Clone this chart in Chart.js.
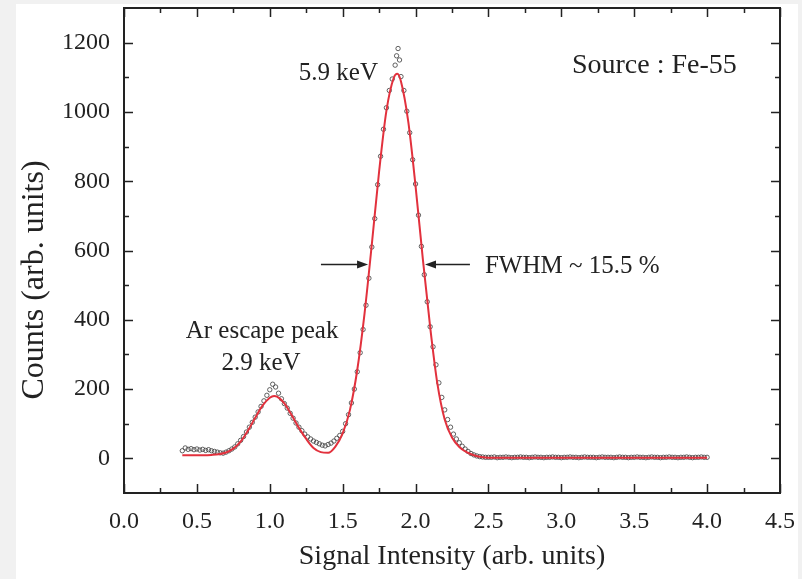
<!DOCTYPE html>
<html><head><meta charset="utf-8">
<script src="https://cdn.jsdelivr.net/npm/chart.js@4/dist/chart.umd.min.js"></script>
<style>html,body{margin:0;padding:0;background:#f1f1f1;overflow:hidden}#wrap{position:absolute;left:0;top:0;width:802px;height:579px}</style>
</head><body><div id="wrap"><canvas id="c" width="802" height="579"></canvas></div>
<script>
// ---- data ----
const dataX = [
0.40,0.42,0.44,0.46,0.48,0.50,0.52,0.54,0.56,0.58,0.60,0.62,0.64,0.66,0.68,0.70,0.72,0.74,0.76,0.78,
0.80,0.82,0.84,0.86,0.88,0.90,0.92,0.94,0.96,0.98,1.00,1.02,1.04,1.06,1.08,1.10,1.12,1.14,1.16,1.18,
1.20,1.22,1.24,1.26,1.28,1.30,1.32,1.34,1.36,1.38,1.40,1.42,1.44,1.46,1.48,
1.50,1.52,1.54,1.56,1.58,1.60,1.62,1.64,1.66,1.68,1.70,1.72,1.74,1.76,1.78,1.80,1.82,1.84,1.86,1.87,
1.88,1.89,1.90,1.92,1.94,1.96,1.98,2.00,2.02,2.04,2.06,2.08,2.10,2.12,2.14,2.16,2.18,2.20,2.22,2.24,
2.26,2.28,2.30,2.32,2.34,2.36,2.38,2.40,2.42,2.44,2.46,2.48,2.50,
2.52,2.54,2.56,2.58,2.60,2.62,2.64,2.66,2.68,2.70,2.72,2.74,2.76,2.78,2.80,2.82,2.84,2.86,2.88,2.90,
2.92,2.94,2.96,2.98,3.00,3.02,3.04,3.06,3.08,3.10,3.12,3.14,3.16,3.18,3.20,3.22,3.24,3.26,3.28,3.30,
3.32,3.34,3.36,3.38,3.40,3.42,3.44,3.46,3.48,3.50,3.52,3.54,3.56,3.58,3.60,3.62,3.64,3.66,3.68,3.70,
3.72,3.74,3.76,3.78,3.80,3.82,3.84,3.86,3.88,3.90,3.92,3.94,3.96,3.98,4.00];
const dataY = [
22,30,26,28,25,27,24,26,23,25,22,20,18,16,15,18,22,27,33,42,
52,63,76,90,104,119,134,150,166,182,198,214,206,188,172,158,145,130,116,102,
90,80,70,62,56,50,46,42,38,36,40,44,50,58,66,
78,100,126,160,200,250,305,372,442,520,610,692,790,872,950,1012,1062,1095,1135,1162,
1183,1150,1102,1062,1002,940,862,792,702,612,530,452,380,322,270,218,176,140,112,90,
70,56,45,35,27,20,14,10,7,5,4,3,3,
3,4,2,3,3,4,3,2,3,3,4,3,3,2,3,4,3,3,2,3,
3,4,3,3,2,3,3,4,3,3,2,3,4,3,3,3,2,3,4,3,
3,3,2,3,4,3,3,2,3,3,4,3,3,2,3,4,3,3,2,3,
3,4,3,3,2,3,3,4,3,2,3,3,4,3,3];
const fitX = [0.40,0.45,0.50,0.55,0.60,0.65,0.70,0.75,0.80,0.85,0.90,0.95,1.00,1.03,1.05,1.10,1.15,1.20,1.25,1.30,
1.35,1.40,1.45,1.50,1.55,1.60,1.65,1.70,1.75,1.80,1.85,1.875,1.90,1.95,2.00,2.05,2.10,2.15,2.20,2.25,
2.30,2.35,2.40,2.45,2.50,2.60,2.80,3.00,3.20,3.40,3.60,3.80,4.00];
const fitY = [9,9,9,9,10,12,17,28,48,80,117,152,175,180,178,159,125,88,56,30,
18,16,34,72,140,255,418,618,828,1003,1098,1110,1088,972,786,575,380,215,112,60,
33,18,9,4,2,2,2,2,2,2,2,2,2];
const xTickValues = [0,0.5,1,1.5,2,2.5,3,3.5,4,4.5];
const xTickLabels = ['0.0','0.5','1.0','1.5','2.0','2.5','3.0','3.5','4.0','4.5'];
const yTickValues = [0,200,400,600,800,1000,1200];
const yTickLabels = ['0','200','400','600','800','1000','1200'];
const xMinor = [0.25,0.75,1.25,1.75,2.25,2.75,3.25,3.75,4.25];
const yMinor = [100,300,500,700,900,1100];

const notes = [
  {text:'5.9 keV', x:1.742, y:1112, align:'right', size:25},
  {text:'Source : Fe-55', x:3.073, y:1135, align:'left', size:28},
  {text:'Ar escape peak', x:0.947, y:365, align:'center', size:25},
  {text:'2.9 keV', x:0.94, y:273, align:'center', size:25},
  {text:'FWHM ~ 15.5 %', x:2.476, y:555, align:'left', size:25}
];
const arrows = [ {from:1.351, to:1.674, y:560}, {from:2.373, to:2.065, y:560} ];
const yTitle = {text:'Counts (arb. units)', x:35, y:280, size:32};

const FONT = "'Liberation Serif','Times New Roman',serif";
const INK = '#222';

const frame = {
  id:'frame',
  beforeDraw(chart){
    const c = chart.ctx;
    c.save();
    c.fillStyle='#f1f1f1'; c.fillRect(0,0,chart.width,chart.height);
    c.fillStyle='#ffffff'; c.fillRect(16,4,782,575);
    c.restore();
  },
  afterDatasetsDraw(chart){
    const c = chart.ctx, a = chart.chartArea, xs = chart.scales.x, ys = chart.scales.y;
    c.save();
    c.strokeStyle = INK; c.lineWidth = 2;
    c.strokeRect(a.left, a.top, a.right-a.left, a.bottom-a.top);
    c.lineWidth = 1.5;
    const tick = (vals, len, isX) => {
      vals.forEach(v => {
        c.beginPath();
        if (isX) {
          const p = Math.round(xs.getPixelForValue(v))+0.5;
          c.moveTo(p, a.bottom); c.lineTo(p, a.bottom-len);
          c.moveTo(p, a.top); c.lineTo(p, a.top+len);
        } else {
          const p = Math.round(ys.getPixelForValue(v))+0.5;
          c.moveTo(a.left, p); c.lineTo(a.left+len, p);
          c.moveTo(a.right, p); c.lineTo(a.right-len, p);
        }
        c.stroke();
      });
    };
    tick(xTickValues, 9, true); tick(xMinor, 5, true);
    tick(yTickValues, 9, false); tick(yMinor, 5, false);
    // annotations
    c.fillStyle = INK; c.textBaseline = 'middle';
    notes.forEach(n => {
      c.font = n.size + 'px ' + FONT;
      c.textAlign = n.align;
      c.fillText(n.text, xs.getPixelForValue(n.x), ys.getPixelForValue(n.y));
    });
    c.strokeStyle = INK; c.lineWidth = 1.3;
    arrows.forEach(r => {
      const x0 = xs.getPixelForValue(r.from), x1 = xs.getPixelForValue(r.to), y = Math.round(ys.getPixelForValue(r.y))+0.5;
      const dir = Math.sign(x1-x0);
      c.beginPath(); c.moveTo(x0,y); c.lineTo(x1-dir*8,y); c.stroke();
      c.beginPath(); c.moveTo(x1,y); c.lineTo(x1-dir*11,y-4); c.lineTo(x1-dir*11,y+4); c.closePath(); c.fill();
    });
    // y axis title
    c.save();
    c.translate(yTitle.x, yTitle.y); c.rotate(-Math.PI/2);
    c.font = yTitle.size + 'px ' + FONT; c.textAlign = 'center'; c.textBaseline = 'middle';
    c.fillText(yTitle.text, 0, 0);
    c.restore();
    c.restore();
  }
};

new Chart(document.getElementById('c'), {
  type:'scatter',
  data:{
    datasets:[
      {label:'data', data:dataX.map((x,i)=>({x, y:dataY[i]})), showLine:false,
       pointRadius:2.2, pointBorderWidth:1, pointBorderColor:'rgba(70,70,70,0.85)', pointBackgroundColor:'rgba(255,255,255,0)', order:2},
      {label:'fit', data:fitX.map((x,i)=>({x, y:fitY[i]})), showLine:true, pointRadius:0,
       borderColor:'#e2313d', borderWidth:2, cubicInterpolationMode:'monotone', order:1}
    ]
  },
  options:{
    responsive:false, animation:false, devicePixelRatio:1,
    layout:{padding:{top:8, right:22, left:0, bottom:0}},
    plugins:{legend:{display:false}, tooltip:{enabled:false}},
    scales:{
      x:{type:'linear', min:0, max:4.5,
         grid:{display:false, drawTicks:false}, border:{display:false},
         afterBuildTicks(s){ s.ticks = xTickValues.map(v=>({value:v})); },
         afterFit(s){ s.height = 86; s.paddingLeft = 0; s.paddingRight = 0; },
         ticks:{padding:14, color:INK, font:{family:FONT, size:24}, maxRotation:0, autoSkip:false,
                callback:(v)=>{const i = xTickValues.indexOf(v); return i>=0 ? xTickLabels[i] : '';}},
         title:{display:true, text:'Signal Intensity (arb. units)', color:INK, font:{family:FONT, size:28}, padding:{top:0,bottom:6}}},
      y:{type:'linear', min:-100, max:1300,
         grid:{display:false, drawTicks:false}, border:{display:false},
         afterBuildTicks(s){ s.ticks = yTickValues.map(v=>({value:v})); },
         afterFit(s){ s.width = 124; s.paddingTop = 0; s.paddingBottom = 0; },
         ticks:{padding:14, color:INK, font:{family:FONT, size:24}, autoSkip:false,
                callback:(v)=>{const i = yTickValues.indexOf(v); return i>=0 ? yTickLabels[i] : '';}},
         title:{display:false, text:'Counts (arb. units)'}}
    }
  },
  plugins:[frame]
});
</script></body></html>
